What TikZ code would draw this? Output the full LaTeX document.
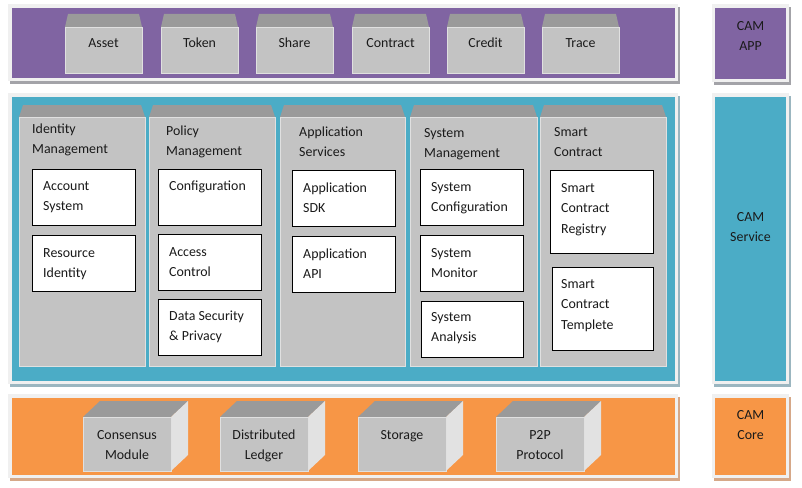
\documentclass[tikz,border=0pt]{standalone}
\usepackage{fontspec}
\setmainfont{Carlito}
\definecolor{purp}{HTML}{8064A2}
\definecolor{tealc}{HTML}{4BACC6}
\definecolor{orng}{HTML}{F79646}
\definecolor{frontg}{HTML}{C3C3C3}
\definecolor{topg}{HTML}{9A9A9A}
\definecolor{sideg}{HTML}{E2E2E2}
\definecolor{frameg}{HTML}{F0F0F0}
\definecolor{shpurp}{HTML}{A3A3A8}
\definecolor{shteal}{HTML}{9BB6C0}
\definecolor{shorng}{HTML}{D6A888}
\definecolor{txt}{HTML}{1A1A1A}
\begin{document}
\begin{tikzpicture}[x=1pt,y=-1pt,
  lbl/.style={font=\fontsize{13.9}{20.8}\selectfont, inner sep=0pt, align=left, text=txt},
  clbl/.style={font=\fontsize{13.9}{20.8}\selectfont, inner sep=0pt, align=center, text=txt},
  whitebox/.style={fill=white, draw=black, line width=0.9pt},
  frontface/.style={fill=frontg, draw=white!88!black, line width=0.6pt},
  topface/.style={fill=topg},
  sideface/.style={fill=sideg}]
\useasboundingbox (0,0) rectangle (802,487);
\fill[white] (0,0) rectangle (802,487);

% ---------- bands ----------
% top band
\fill[shpurp] (10,7) rectangle (680,84);
\fill[frameg] (8,4) rectangle (678,81);
\fill[purp] (12,8) rectangle (675,78);
\fill[shpurp] (714,7) rectangle (791,85);
\fill[frameg] (712,4) rectangle (789,82);
\fill[purp] (715,8) rectangle (786,79);
% service band
\fill[shteal] (10,96) rectangle (680,387);
\fill[frameg] (8,93) rectangle (678,384);
\fill[tealc] (12,97) rectangle (675,381);
\fill[shteal] (714,96) rectangle (791,387);
\fill[frameg] (712,93) rectangle (789,384);
\fill[tealc] (715,97) rectangle (786,381);
% core band
\fill[shorng] (10,397) rectangle (680,481);
\fill[frameg] (8,394) rectangle (678,478);
\fill[orng] (12,398) rectangle (675,475);
\fill[shorng] (714,397) rectangle (791,481);
\fill[frameg] (712,394) rectangle (789,478);
\fill[orng] (715,398) rectangle (786,475);

% (base anchor = baseline of the last line)
\node[clbl, anchor=base] (camapp) at (750.5,50.8) {CAM\\APP};
\node[clbl, anchor=base] (camservice) at (750.5,241.8) {CAM\\Service};
\node[clbl, anchor=base] (camcore) at (750.5,439.8) {CAM\\Core};

% ---------- top boxes ----------
\foreach \x/\t/\n in {65/Asset/asset,161/Token/token,256/Share/share,352/Contract/contract,447/Credit/credit,542/Trace/trace}{
  \fill[topface] (\x,27) -- (\x+3,14) -- (\x+74,14) -- (\x+77,27) -- cycle;
  \path[frontface] (\x,27) rectangle (\x+77,73);
  \node[clbl, anchor=base] (\n) at (\x+38.5,48) {\t};
}

% ---------- service columns ----------
\foreach \a/\b in {19/145,149/275,280/405,410/537,540/666}{
  \fill[topface] (\a,117) -- (\a+4,105) -- (\b-4,105) -- (\b,117) -- cycle;
  \path[frontface] (\a,117) rectangle (\b,366);
}
\node[lbl, anchor=base west] (idm) at (32,153.8) {Identity\\Management};
\node[lbl, anchor=base west] (pol) at (166,155.8) {Policy\\Management};
\node[lbl, anchor=base west] (aps) at (299,156.8) {Application\\Services};
\node[lbl, anchor=base west] (sym) at (424,157.8) {System\\Management};
\node[lbl, anchor=base west] (smc) at (554,156.8) {Smart\\Contract};

% inner boxes
\path[whitebox] (32,169) rectangle (135,225);
\node[lbl, anchor=base west] (acc) at (43,210.8) {Account\\System};
\path[whitebox] (32,235) rectangle (135,291);
\node[lbl, anchor=base west] (res) at (43,277.8) {Resource\\Identity};

\path[whitebox] (158,169) rectangle (261,225);
\node[lbl, anchor=base west] (conf) at (169,190) {Configuration};
\path[whitebox] (158,234) rectangle (261,290);
\node[lbl, anchor=base west] (acl) at (169,276.8) {Access\\Control};
\path[whitebox] (158,299) rectangle (261,355);
\node[lbl, anchor=base west] (dsp) at (169,340.8) {Data Security\\\& Privacy};

\path[whitebox] (292,170) rectangle (395,226);
\node[lbl, anchor=base west] (sdk) at (303,212.8) {Application\\SDK};
\path[whitebox] (292,236) rectangle (395,292);
\node[lbl, anchor=base west] (api) at (303,278.8) {Application\\API};

\path[whitebox] (420,169) rectangle (523,225);
\node[lbl, anchor=base west] (scf) at (431,211.8) {System\\Configuration};
\path[whitebox] (420,235) rectangle (523,291);
\node[lbl, anchor=base west] (smo) at (431,277.8) {System\\Monitor};
\path[whitebox] (421,301) rectangle (523,357);
\node[lbl, anchor=base west] (san) at (431,341.8) {System\\Analysis};

\path[whitebox] (550,170) rectangle (653,253);
\node[lbl, anchor=base west] (scr) at (561,233.6) {Smart\\Contract\\Registry};
\path[whitebox] (552,267) rectangle (653,350);
\node[lbl, anchor=base west] (sct) at (561,329.6) {Smart\\Contract\\Templete};

% ---------- core cubes ----------
\foreach \x/\t/\n/\yb in {83/{Consensus\\Module}/cons/459.8,220/{Distributed\\Ledger}/dled/459.8,358/{Storage}/stor/439,496/{P2P\\Protocol}/ptp/459.8}{
  \fill[topface] (\x,417) -- (\x+17,401) -- (\x+105,401) -- (\x+88,417) -- cycle;
  \fill[sideface] (\x+88,417) -- (\x+105,401) -- (\x+105,455) -- (\x+88,471) -- cycle;
  \path[frontface] (\x,417) rectangle (\x+88,471);
  \node[clbl, anchor=base] (\n) at (\x+44,\yb) {\t};
}
\end{tikzpicture}
\end{document}
